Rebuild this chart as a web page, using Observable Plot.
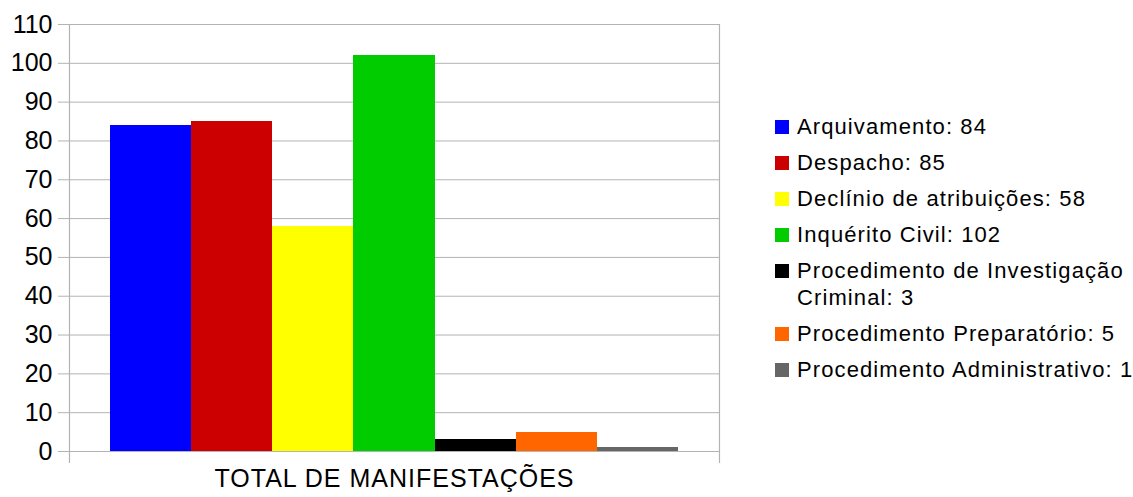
<!DOCTYPE html>
<html>
<head>
<meta charset="utf-8">
<script src="https://cdn.jsdelivr.net/npm/d3@7"></script>
<script src="https://cdn.jsdelivr.net/npm/@observablehq/plot@0.6"></script>
<style>
  html, body { margin: 0; padding: 0; background: #fff; }
  body { width: 1133px; height: 497px; position: relative; overflow: hidden; font-family: "Liberation Sans", Arial, sans-serif; }
  #chart { position: absolute; left: 0; top: 0; }
  #legend { position: absolute; left: 775px; top: 113px; font-size: 22px; letter-spacing: 1.1px; color: #000; }
  .item { display: flex; align-items: flex-start; margin-bottom: 9px; line-height: 27px; }
  .sw { width: 14px; height: 14px; flex: none; margin-top: 7px; margin-right: 8px; }
  .lb { width: 360px; }
</style>
</head>
<body>
<div id="chart"></div>
<div id="legend"></div>
<script>
const categories = ["Arquivamento", "Despacho", "Declínio de atribuições", "Inquérito Civil", "Procedimento de Investigação Criminal", "Procedimento Preparatório", "Procedimento Administrativo"];
const values = [84, 85, 58, 102, 3, 5, 1];
const colors = ["#0000ff", "#cc0000", "#ffff00", "#00cc00", "#000000", "#ff6600", "#666666"];
const groupLabel = "TOTAL DE MANIFESTAÇÕES";
const yTicks = [0, 10, 20, 30, 40, 50, 60, 70, 80, 90, 100, 110];

const data = categories.map((c, i) => ({category: c, value: values[i]}));

const chart = Plot.plot({
  width: 740,
  height: 497,
  marginTop: 24,
  marginBottom: 46,
  marginLeft: 69,
  marginRight: 21,
  style: {fontFamily: "'Liberation Sans', Arial, sans-serif", background: "#fff"},
  x: {domain: categories, paddingInner: 0, paddingOuter: 0.5, round: false, axis: null},
  y: {domain: [0, 110], ticks: yTicks},
  color: {domain: categories, range: colors},
  marks: [
    Plot.gridY(yTicks, {stroke: "#b3b3b3", strokeOpacity: 1, strokeWidth: 1}),
    Plot.frame({anchor: "left", stroke: "#b3b3b3", strokeWidth: 1.2, insetBottom: -11}),
    Plot.frame({anchor: "right", stroke: "#b3b3b3", strokeWidth: 1.2, insetBottom: -11}),
    Plot.barY(data, {x: "category", y: "value", fill: "category", shapeRendering: "crispEdges"}),
    Plot.axisY(yTicks, {tickSize: 11, tickPadding: 6, stroke: "#b3b3b3", fontSize: 25, fill: "#000", label: null, tickFormat: d => String(d)}),
    Plot.text([groupLabel], {frameAnchor: "bottom", dy: 35, fontSize: 25, fill: "#000"})
  ]
});
document.getElementById("chart").appendChild(chart);
chart.querySelectorAll("text").forEach(t => { if (t.textContent === groupLabel) t.style.letterSpacing = "1px"; });

const legend = document.getElementById("legend");
categories.forEach((c, i) => {
  const item = document.createElement("div");
  item.className = "item";
  const sw = document.createElement("div");
  sw.className = "sw";
  sw.style.background = colors[i];
  const lb = document.createElement("div");
  lb.className = "lb";
  lb.textContent = `${c}: ${values[i]}`;
  item.appendChild(sw);
  item.appendChild(lb);
  legend.appendChild(item);
});
</script>
</body>
</html>
